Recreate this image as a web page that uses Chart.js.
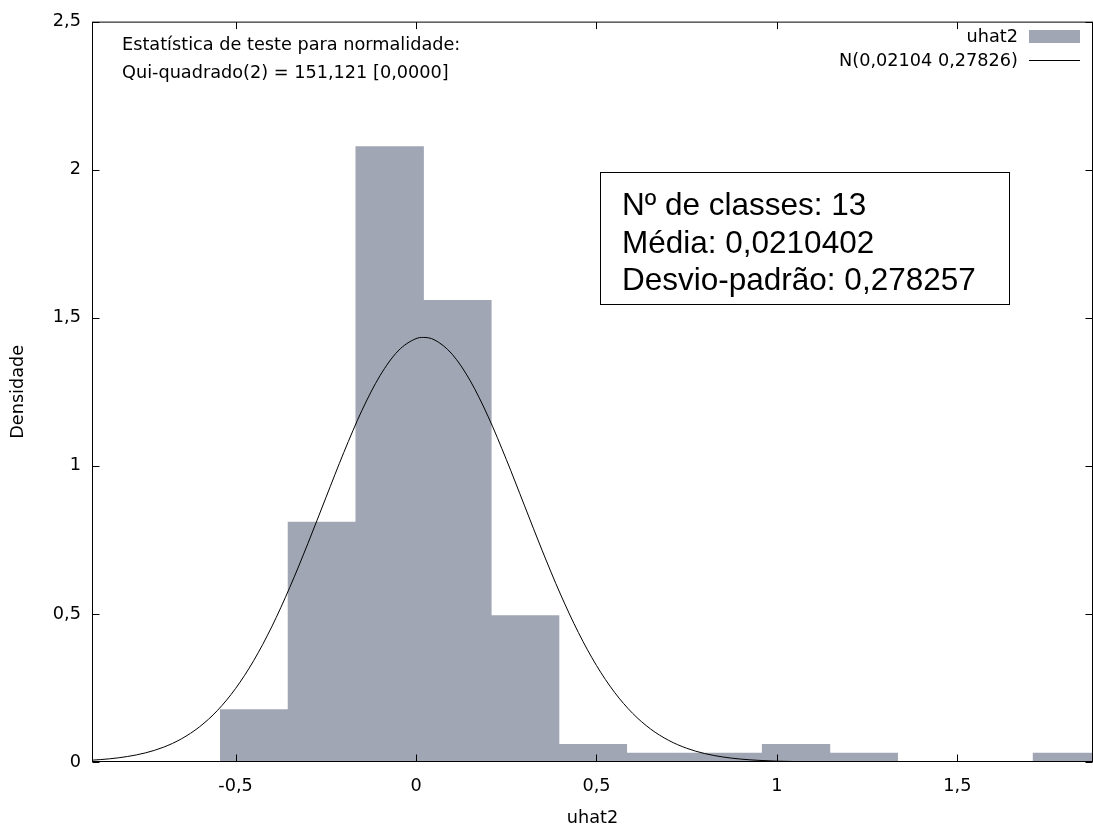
<!DOCTYPE html>
<html>
<head>
<meta charset="utf-8">
<title>uhat2</title>
<script src="https://cdn.jsdelivr.net/npm/chart.js@4.4.0/dist/chart.umd.min.js"></script>
<style>
html, body { margin: 0; padding: 0; background: #fff; }
#wrap { width: 1093px; height: 827px; }
</style>
</head>
<body>
<div id="wrap"><canvas id="hist" width="1093" height="827"></canvas></div>
<script>
// histogram of uhat2 (13 classes), centres and densities
var binCenters = [-0.4485, -0.2608, -0.0731, 0.1146, 0.3023, 0.4900, 0.6777, 0.8654, 1.0531, 1.2408, 1.4285, 1.6162, 1.8039];
var binDensity = [0.177, 0.81, 2.078, 1.559, 0.494, 0.06, 0.03, 0.03, 0.06, 0.03, 0, 0, 0.03];

// normal curve N(0,02104 0,27826) as seen on the plot
var curveX = [-0.9, -0.85, -0.8, -0.75, -0.7, -0.65, -0.6, -0.55, -0.5, -0.45, -0.4, -0.35, -0.3, -0.25, -0.2, -0.15, -0.1, -0.05, 0, 0.02, 0.05, 0.1, 0.15, 0.2, 0.25, 0.3, 0.35, 0.4, 0.45, 0.5, 0.55, 0.6, 0.65, 0.7, 0.75, 0.8, 0.85, 0.9, 0.95, 1.0, 1.1, 1.2, 1.3, 1.4, 1.5, 1.6, 1.7, 1.8, 1.9];
var curveY = [0.006, 0.0107, 0.0185, 0.0308, 0.0499, 0.0783, 0.1188, 0.1745, 0.2484, 0.3421, 0.4563, 0.5894, 0.7369, 0.8921, 1.0458, 1.187, 1.3042, 1.3877, 1.4296, 1.4337, 1.426, 1.3771, 1.2877, 1.1659, 1.022, 0.8674, 0.7128, 0.5672, 0.437, 0.3259, 0.2354, 0.1646, 0.1114, 0.0731, 0.0464, 0.0285, 0.017, 0.0098, 0.0055, 0.0029, 0.0008, 0.0002, 0, 0, 0, 0, 0, 0, 0];

var xTickValues = [-0.5, 0, 0.5, 1, 1.5];
var yTickValues = [0, 0.5, 1, 1.5, 2, 2.5];

var seriesName = 'uhat2';
var curveName = 'N(0,02104 0,27826)';
var testLines = ['Estatística de teste para normalidade:', 'Qui-quadrado(2) = 151,121 [0,0000]'];
var boxLines = ['Nº de classes: 13', 'Média: 0,0210402', 'Desvio-padrão: 0,278257'];

var barColor = '#a0a6b4';
var fontSize = 17.7;
var smallFont = fontSize + 'px "DejaVu Sans"';

function comma(v) {
  return String(v).replace('.', ',');
}

// gnuplot style frame with inward mirrored ticks, key and text boxes
var gnuplotDecor = {
  id: 'gnuplotDecor',
  afterDraw: function(chart) {
    var ctx = chart.ctx;
    var a = chart.chartArea;
    var xs = chart.scales.x, ys = chart.scales.y;
    var L = a.left + 0.5, R = a.right - 0.5, T = a.top + 0.5, B = a.bottom - 0.5;
    var tick = 7;
    ctx.save();
    ctx.strokeStyle = '#000';
    ctx.lineWidth = 1;
    ctx.strokeRect(L, T, R - L, B - T);
    ctx.beginPath();
    xTickValues.forEach(function(v) {
      var px = Math.round(xs.getPixelForValue(v)) + 0.5;
      ctx.moveTo(px, B); ctx.lineTo(px, B - tick);
      ctx.moveTo(px, T); ctx.lineTo(px, T + tick);
    });
    yTickValues.forEach(function(v) {
      var py = Math.round(ys.getPixelForValue(v)) + 0.5;
      ctx.moveTo(L, py); ctx.lineTo(L + tick, py);
      ctx.moveTo(R, py); ctx.lineTo(R - tick, py);
    });
    ctx.stroke();

    // normality test text, top left
    ctx.fillStyle = '#000';
    ctx.font = smallFont;
    ctx.textAlign = 'left';
    ctx.textBaseline = 'alphabetic';
    ctx.fillText(testLines[0], 122, 50);
    ctx.fillText(testLines[1], 122, 78);

    // key, top right
    ctx.textAlign = 'right';
    ctx.fillText(seriesName, 1018, 42);
    ctx.fillText(curveName, 1018, 66);
    ctx.fillStyle = barColor;
    ctx.fillRect(1029, 30, 51, 13);
    ctx.beginPath();
    ctx.moveTo(1029, 60.5); ctx.lineTo(1080, 60.5);
    ctx.stroke();

    // summary box
    ctx.fillStyle = '#fff';
    ctx.fillRect(600, 172, 410, 133);
    ctx.strokeRect(600.5, 172.5, 409, 132);
    ctx.fillStyle = '#000';
    ctx.textAlign = 'left';
    ctx.font = '31.5px "Liberation Sans", Arial, sans-serif';
    ctx.fillText(boxLines[0], 622, 215);
    ctx.fillText(boxLines[1], 622, 253);
    ctx.fillText(boxLines[2], 622, 290);
    ctx.restore();
  }
};

var barPoints = binCenters.map(function(c, i) { return { x: c, y: binDensity[i] }; });
var curvePoints = curveX.map(function(x, i) { return { x: x, y: curveY[i] }; });

new Chart(document.getElementById('hist'), {
  type: 'bar',
  data: {
    datasets: [
      {
        type: 'line',
        label: curveName,
        data: curvePoints,
        borderColor: '#000',
        borderWidth: 1,
        pointRadius: 0,
        fill: false,
        cubicInterpolationMode: 'monotone',
        order: 0
      },
      {
        label: seriesName,
        data: barPoints,
        backgroundColor: barColor,
        borderWidth: 0,
        barPercentage: 1,
        categoryPercentage: 1,
        order: 1
      }
    ]
  },
  options: {
    responsive: false,
    devicePixelRatio: 1,
    animation: false,
    events: [],
    layout: { padding: { top: 18, left: 0, right: 0, bottom: 0 } },
    plugins: {
      legend: { display: false },
      tooltip: { enabled: false }
    },
    scales: {
      x: {
        type: 'linear',
        offset: false,
        min: -0.898,
        max: 1.876,
        grid: { display: false, drawTicks: false },
        border: { display: false },
        afterBuildTicks: function(scale) {
          scale.ticks = xTickValues.map(function(v) { return { value: v }; });
        },
        afterFit: function(scale) { scale.height = 65; },
        ticks: {
          padding: 14,
          color: '#000',
          font: { family: 'DejaVu Sans', size: fontSize },
          maxRotation: 0,
          callback: function(v) { return comma(v); }
        },
        title: {
          display: true,
          text: seriesName,
          color: '#000',
          font: { family: 'DejaVu Sans', size: fontSize, lineHeight: 1 },
          padding: { top: 0, bottom: 0 }
        }
      },
      y: {
        type: 'linear',
        min: 0,
        max: 2.5,
        grid: { display: false, drawTicks: false },
        border: { display: false },
        afterBuildTicks: function(scale) {
          scale.ticks = yTickValues.map(function(v) { return { value: v }; });
        },
        afterFit: function(scale) { scale.width = 92; },
        ticks: {
          padding: 11,
          color: '#000',
          font: { family: 'DejaVu Sans', size: fontSize },
          callback: function(v) { return comma(v); }
        },
        title: {
          display: true,
          text: 'Densidade',
          color: '#000',
          font: { family: 'DejaVu Sans', size: fontSize, lineHeight: 1 },
          padding: { top: 10, bottom: 0 }
        }
      }
    }
  },
  plugins: [gnuplotDecor]
});
</script>
</body>
</html>
